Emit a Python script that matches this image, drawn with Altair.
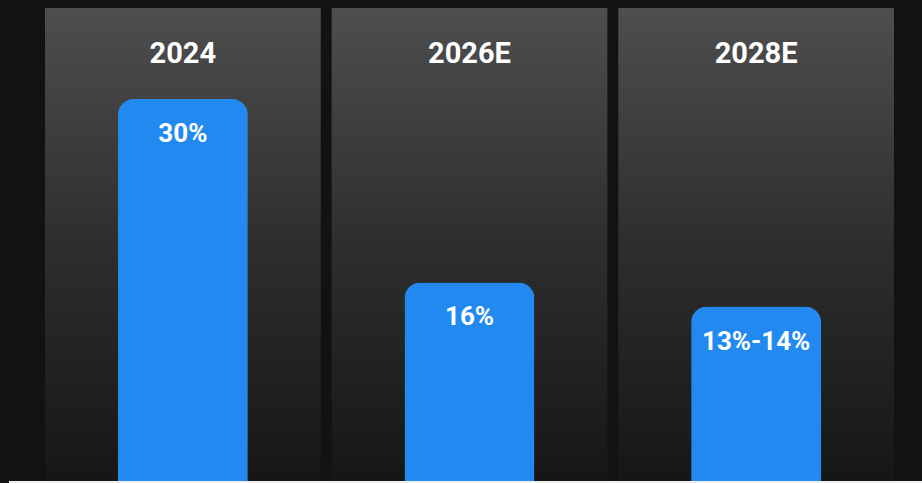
import altair as alt
import pandas as pd

years = ["2024", "2026E", "2028E"]
values = [30, 15.6, 13.7]
labels = ["30%", "16%", "13%-14%"]

df = pd.DataFrame({"year": years, "value": values, "label": labels})

W, H = 849, 473

x = alt.X("year:N", sort=years,
          scale=alt.Scale(paddingInner=0.038, paddingOuter=0),
          axis=None)
yscale = alt.Scale(domain=[0, 37.15], nice=False, zero=True)

gradient = alt.Gradient(
    gradient="linear", x1=0, y1=0, x2=0, y2=1,
    stops=[alt.GradientStop(color="#4e4e4e", offset=0),
           alt.GradientStop(color="#2e2e2e", offset=0.5),
           alt.GradientStop(color="#161616", offset=1)],
)

panels = alt.Chart(df).mark_rect(color=gradient).encode(
    x=x, y=alt.value(0), y2=alt.value(H)
)

bars = alt.Chart(df).mark_bar(
    color="#2289f0", width=130,
    cornerRadiusTopLeft=16, cornerRadiusTopRight=16
).encode(
    x=x,
    y=alt.Y("value:Q", scale=yscale, axis=None),
)

bar_text = alt.Chart(df).mark_text(
    color="white", font="Roboto", fontWeight="bold", fontSize=26,
    baseline="alphabetic", dy=43
).encode(
    x=x,
    y=alt.Y("value:Q", scale=yscale, axis=None),
    text="label:N",
)

year_text = alt.Chart(df).mark_text(
    color="white", font="Roboto", fontWeight="bold", fontSize=29,
    baseline="alphabetic"
).encode(
    x=x, y=alt.value(55), text="year:N"
)

base_line = alt.Chart(df).mark_rule(
    color="white", opacity=0.6, strokeWidth=2, clip=False
).encode(
    x=alt.value(-36), x2=alt.value(W + 28), y=alt.value(H + 1)
)

chart = alt.layer(panels, bars, bar_text, year_text, base_line).properties(
    width=W, height=H,
    background="#121212",
    padding={"left": 45, "top": 8, "right": 28, "bottom": 2},
    autosize=alt.AutoSizeParams(type="none"),
).configure_view(stroke=None)

chart.save("out.html", embed_options={"renderer": "svg", "actions": False})
